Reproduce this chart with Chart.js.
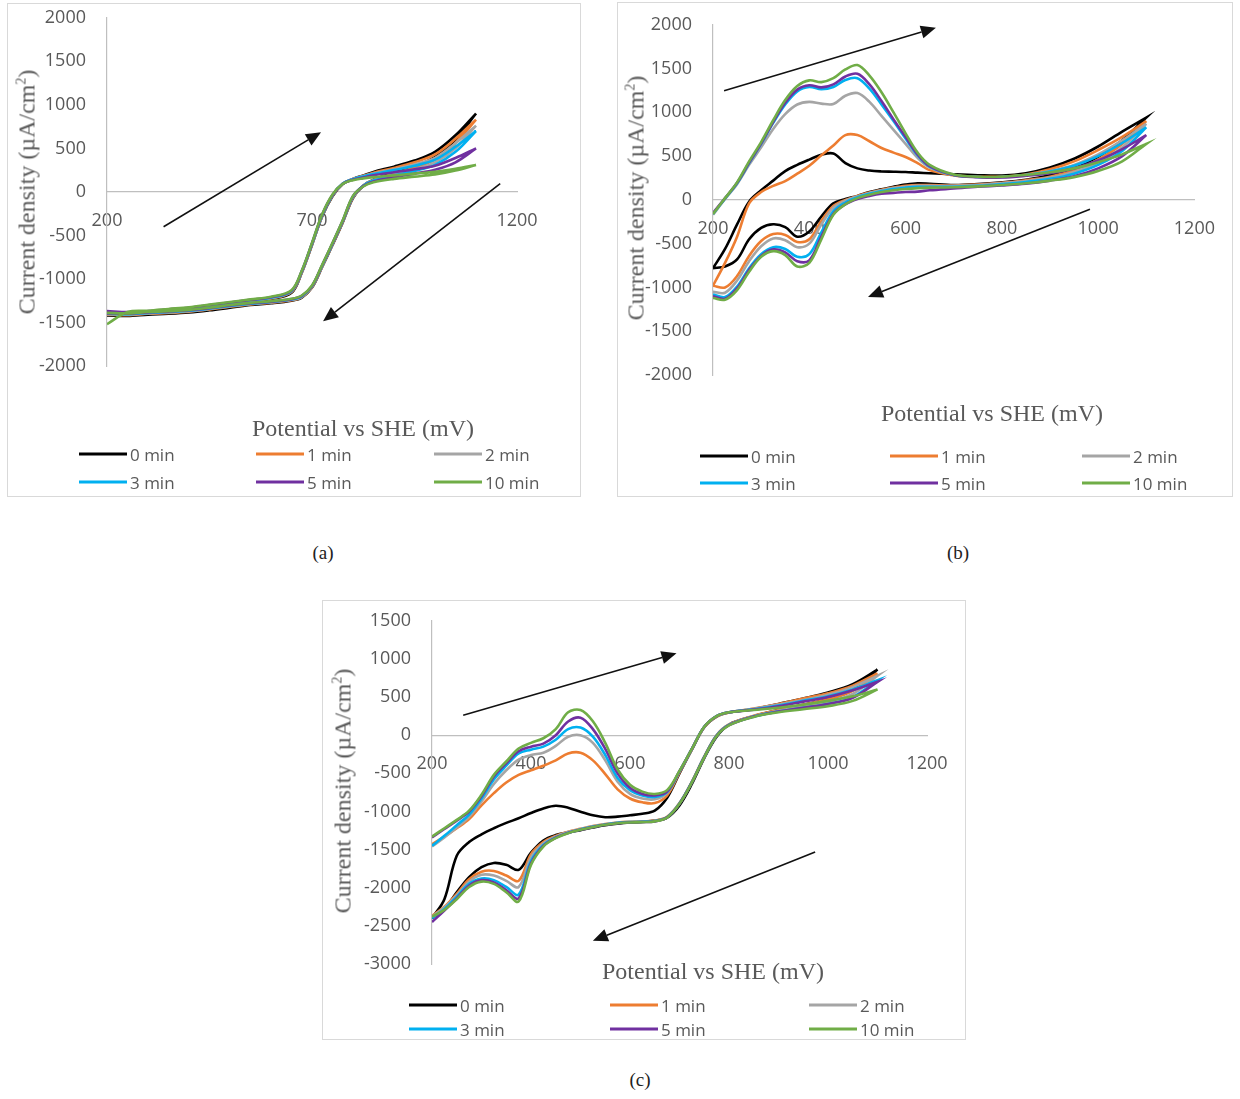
<!DOCTYPE html>
<html><head><meta charset="utf-8">
<script src="https://cdn.jsdelivr.net/npm/chart.js@4.4.1/dist/chart.umd.min.js"></script>
<style>
body{margin:0;width:1240px;height:1099px;background:#fff;position:relative;overflow:hidden;font-family:'Open Sans',sans-serif;}
.box{position:absolute;border:1px solid #d9d9d9;box-sizing:border-box;}
canvas{position:absolute;}
.xt,.yt{position:absolute;font-family:'Liberation Serif',serif;font-size:24px;color:#595959;white-space:nowrap;}
.xt{transform:translate(-50%,-50%);}
.yt{transform:translate(-50%,-50%) rotate(-90deg);}
.yt sup{font-size:14px;}
.li{position:absolute;transform:translateY(-50%);font-size:17px;color:#595959;display:flex;align-items:center;white-space:nowrap;}
.li i{display:inline-block;width:48px;height:3px;margin-right:3px;}
.cap{position:absolute;transform:translate(-50%,-50%);font-family:'Liberation Serif',serif;font-size:19px;color:#222;}
</style></head>
<body>
<div class="box" style="left:7px;top:3px;width:574px;height:494px"></div>
<div class="box" style="left:617px;top:2px;width:616px;height:495px"></div>
<div class="box" style="left:322px;top:600px;width:644px;height:440px"></div>
<canvas id="cA" width="574" height="511" style="left:7px;top:-14px"></canvas>
<canvas id="cB" width="616" height="504" style="left:617px;top:-7px"></canvas>
<canvas id="cC" width="644" height="451" style="left:322px;top:589px"></canvas>
<div id="txt"></div>
<script>
// ---------- series ----------
const seriesNames = ['0 min','1 min','2 min','3 min','5 min','10 min'];
const seriesColors = ['#000000','#ED7D31','#A5A5A5','#00B0F0','#7030A0','#70AD47'];

// ---------- panel (a) : potential grid (mV), forward and reverse current densities (uA/cm2), ascending potential ----------
const potentialA = [200,250,300,350,400,450,500,550,600,650,675,700,725,750,775,800,825,850,900,950,1000,1050,1100];
const a0Fwd = [-1400,-1400,-1390,-1370,-1350,-1320,-1290,-1260,-1230,-1160,-930,-610,-280,-50,90,150,190,230,290,360,460,650,900];
const a0Rev = [-1420,-1425,-1410,-1400,-1385,-1360,-1330,-1300,-1280,-1250,-1215,-1100,-860,-610,-350,-70,70,140,220,300,400,600,900];
const a1Fwd = [-1390,-1395,-1385,-1365,-1345,-1315,-1285,-1255,-1225,-1150,-925,-605,-275,-45,92,148,185,220,275,340,430,610,830];
const a1Rev = [-1410,-1415,-1400,-1390,-1375,-1350,-1320,-1292,-1272,-1245,-1210,-1095,-855,-605,-345,-65,72,138,210,280,370,560,830];
const a2Fwd = [-1385,-1390,-1380,-1360,-1340,-1310,-1280,-1250,-1220,-1145,-920,-600,-270,-40,95,148,182,212,260,315,390,560,760];
const a2Rev = [-1405,-1410,-1395,-1385,-1370,-1345,-1315,-1288,-1268,-1240,-1205,-1090,-850,-600,-340,-60,72,135,200,260,340,500,760];
const a3Fwd = [-1380,-1385,-1375,-1355,-1335,-1305,-1275,-1245,-1215,-1140,-915,-595,-265,-38,95,145,178,205,250,300,370,520,700];
const a3Rev = [-1400,-1405,-1390,-1380,-1365,-1340,-1310,-1284,-1264,-1236,-1200,-1085,-845,-595,-335,-55,70,130,190,240,310,460,700];
const a5Fwd = [-1370,-1380,-1370,-1350,-1330,-1300,-1270,-1240,-1210,-1135,-910,-590,-260,-35,93,140,165,190,225,260,300,390,500];
const a5Rev = [-1395,-1400,-1385,-1375,-1360,-1335,-1305,-1280,-1260,-1232,-1195,-1080,-840,-590,-330,-50,66,120,170,210,255,340,500];
const a10Fwd = [-1520,-1380,-1365,-1345,-1325,-1295,-1265,-1235,-1205,-1130,-905,-585,-255,-30,92,135,155,170,190,210,230,265,310];
const a10Rev = [-1390,-1395,-1380,-1370,-1355,-1330,-1300,-1275,-1255,-1228,-1190,-1075,-835,-585,-325,-45,62,110,150,175,200,245,310];
const xTicksA = [200,700,1200];
const yTicksA = [-2000,-1500,-1000,-500,0,500,1000,1500,2000];
const arrowsA = [[338,-400,722,686],[1159,95,727,-1486]];

// ---------- panel (b) ----------
const potentialB = [200,225,250,275,300,325,350,375,400,425,450,475,500,525,550,575,600,625,650,700,750,800,850,900,950,1000,1050,1100];
const b0Fwd = [-780,-560,-280,-20,110,220,329,400,460,515,530,420,360,335,325,322,318,311,305,292,282,278,305,370,470,610,780,940];
const b0Rev = [-780,-760,-680,-450,-320,-278,-310,-420,-360,-190,-40,10,45,90,120,150,175,190,185,170,180,200,230,280,360,490,680,940];
const b1Fwd = [-980,-720,-420,-40,90,160,215,300,390,510,620,740,740,670,593,540,490,420,340,280,265,265,290,350,440,570,720,900];
const b1Rev = [-980,-1000,-870,-640,-470,-390,-400,-480,-450,-240,-70,0,45,85,115,140,160,170,170,165,175,195,225,265,340,460,640,900];
const b2Fwd = [-170,10,180,400,600,810,980,1090,1120,1100,1095,1190,1220,1120,960,800,640,480,370,285,262,262,285,330,400,520,680,870];
const b2Rev = [-1050,-1060,-920,-700,-530,-440,-460,-540,-500,-280,-90,-10,40,80,110,135,150,160,160,160,170,190,215,255,320,430,600,870];
const b3Fwd = [-160,15,190,420,640,880,1090,1240,1290,1265,1290,1370,1390,1270,1090,900,700,510,380,285,262,262,285,325,390,500,650,830];
const b3Rev = [-1080,-1110,-990,-780,-620,-540,-560,-650,-620,-370,-130,-30,30,70,100,125,140,150,150,150,160,180,205,240,300,400,560,830];
const b5Fwd = [-150,20,195,425,645,890,1110,1260,1310,1285,1320,1410,1440,1320,1130,920,720,520,385,285,260,255,275,305,360,450,580,740];
const b5Rev = [-1100,-1130,-1010,-800,-640,-565,-600,-700,-690,-420,-160,-50,10,45,70,80,90,95,110,130,150,165,185,220,270,360,500,740];
const b10Fwd = [-160,20,200,440,660,910,1140,1300,1365,1345,1390,1490,1540,1420,1230,1000,760,540,400,290,265,265,285,315,360,430,520,640];
const b10Rev = [-1120,-1140,-1030,-820,-650,-585,-630,-760,-720,-450,-170,-50,20,60,90,110,125,135,140,145,155,170,190,220,260,330,440,640];
const xTicksB = [200,400,600,800,1000,1200];
const yTicksB = [-2000,-1500,-1000,-500,0,500,1000,1500,2000];
const arrowsB = [[223,1247,663,1966],[983,-106,522,-1110]];

// ---------- panel (c) ----------
const potentialC = [200,225,250,275,300,325,350,375,400,425,450,475,500,525,550,575,600,625,650,675,700,725,750,775,800,850,900,950,1000,1050,1100];
const c0Fwd = [-2400,-2150,-1580,-1400,-1300,-1220,-1150,-1090,-1020,-960,-925,-950,-1005,-1050,-1075,-1068,-1050,-1030,-990,-820,-500,-190,105,245,298,340,410,480,560,670,860];
const c0Rev = [-2400,-2280,-2060,-1860,-1730,-1675,-1700,-1765,-1540,-1380,-1310,-1275,-1245,-1210,-1180,-1160,-1145,-1135,-1120,-1080,-920,-640,-300,-20,140,250,330,400,470,590,860];
const c1Fwd = [-1430,-1330,-1220,-1100,-920,-760,-620,-520,-460,-400,-330,-240,-230,-330,-510,-710,-830,-880,-890,-790,-490,-185,105,245,298,350,410,480,550,650,810];
const c1Rev = [-2370,-2250,-2080,-1890,-1790,-1780,-1840,-1910,-1560,-1400,-1320,-1265,-1228,-1192,-1165,-1146,-1136,-1130,-1120,-1070,-890,-610,-280,0,140,255,330,400,470,580,810];
const c2Fwd = [-1460,-1340,-1210,-1070,-870,-640,-460,-320,-260,-230,-140,-20,0,-100,-330,-610,-770,-830,-840,-755,-475,-180,110,250,300,345,400,460,530,630,780];
const c2Rev = [-2380,-2260,-2100,-1920,-1830,-1840,-1910,-1990,-1600,-1420,-1330,-1270,-1230,-1195,-1168,-1148,-1138,-1132,-1122,-1072,-892,-612,-282,-2,138,250,320,380,440,540,780];
const c3Fwd = [-1450,-1320,-1180,-1040,-830,-580,-400,-240,-190,-150,-60,80,100,-20,-260,-560,-720,-790,-810,-745,-475,-180,110,250,300,340,390,450,510,600,720];
const c3Rev = [-2400,-2280,-2120,-1950,-1880,-1900,-1990,-2090,-1650,-1440,-1340,-1280,-1235,-1200,-1170,-1150,-1140,-1135,-1125,-1075,-895,-615,-285,-5,135,245,310,360,410,500,720];
const c5Fwd = [-1340,-1230,-1120,-1000,-800,-540,-370,-210,-150,-110,0,180,230,80,-180,-500,-690,-770,-790,-740,-470,-180,110,250,300,335,380,440,500,590,700];
const c5Rev = [-2450,-2300,-2140,-1970,-1900,-1930,-2030,-2140,-1680,-1450,-1345,-1283,-1240,-1205,-1175,-1155,-1145,-1140,-1130,-1078,-898,-618,-288,-8,132,245,310,360,410,490,700];
const c10Fwd = [-1330,-1220,-1110,-990,-780,-520,-345,-175,-100,-40,80,300,330,182,-100,-450,-650,-740,-770,-720,-468,-180,110,250,300,330,360,400,450,510,600];
const c10Rev = [-2380,-2290,-2150,-1990,-1920,-1950,-2060,-2180,-1700,-1460,-1350,-1285,-1240,-1205,-1175,-1155,-1145,-1140,-1130,-1080,-900,-620,-290,-10,130,240,300,340,380,450,600];
const xTicksC = [200,400,600,800,1000,1200];
const yTicksC = [-3000,-2500,-2000,-1500,-1000,-500,0,500,1000,1500];
const arrowsC = [[263,261,694,1073],[974,-1531,525,-2695]];

const xTitle = 'Potential vs SHE (mV)';

// forward scan then reverse scan, as one continuous trace
function cycle(grid, fwd, rev){
  const f = grid.map((x,i)=>({x:x, y:fwd[i]}));
  const r = grid.map((x,i)=>({x:x, y:rev[i]})).reverse();
  return f.concat(r);
}

const arrowPlugin = {
  id:'arrows',
  afterDatasetsDraw(chart, args, opts){
    const ctx = chart.ctx, xs = chart.scales.x, ys = chart.scales.y;
    ctx.save();
    ctx.strokeStyle = '#111'; ctx.fillStyle = '#111'; ctx.lineWidth = 1.6;
    (opts.list||[]).forEach(a=>{
      const x1 = xs.getPixelForValue(a[0]), y1 = ys.getPixelForValue(a[1]);
      const x2 = xs.getPixelForValue(a[2]), y2 = ys.getPixelForValue(a[3]);
      const ang = Math.atan2(y2-y1, x2-x1), hl = 15, hw = 6.5;
      const bx = x2 - hl*Math.cos(ang), by = y2 - hl*Math.sin(ang);
      ctx.beginPath(); ctx.moveTo(x1,y1); ctx.lineTo(bx,by); ctx.stroke();
      ctx.beginPath(); ctx.moveTo(x2,y2);
      ctx.lineTo(bx - hw*Math.sin(ang), by + hw*Math.cos(ang));
      ctx.lineTo(bx + hw*Math.sin(ang), by - hw*Math.cos(ang));
      ctx.closePath(); ctx.fill();
    });
    ctx.restore();
  }
};

const tickFont = {family:'Open Sans', size:18};
function makeChart(id, grid, fwds, revs, xTicks, yTicks, arrows, pad, yW){
  return new Chart(document.getElementById(id), {
    type:'scatter',
    data:{datasets: seriesNames.map((n,i)=>({
      label:n, data:cycle(grid, fwds[i], revs[i]), showLine:true,
      borderColor:seriesColors[i], backgroundColor:seriesColors[i],
      borderWidth:2.6, pointRadius:0, pointHoverRadius:0, tension:0.35, fill:false, order:6-i
    }))},
    options:{
      responsive:false, animation:false, devicePixelRatio:1,
      layout:{padding:pad},
      events:[],
      plugins:{legend:{display:false}, tooltip:{enabled:false}, arrows:{list:arrows}},
      scales:{
        x:{type:'linear', position:{y:0}, min:xTicks[0], max:xTicks[xTicks.length-1],
          afterBuildTicks:s=>{ s.ticks = xTicks.map(v=>({value:v})); },
          ticks:{font:tickFont, color:'#595959', padding:18, maxRotation:0, autoSkip:false, callback:v=>String(v)},
          grid:{display:false, drawTicks:false}, border:{display:true, color:'#bfbfbf', width:1.2}},
        y:{type:'linear', position:'left', min:yTicks[0], max:yTicks[yTicks.length-1],
          afterBuildTicks:s=>{ s.ticks = yTicks.map(v=>({value:v})); },
          afterFit:s=>{ s.width = yW; },
          ticks:{font:tickFont, color:'#595959', padding:21, autoSkip:false, callback:v=>String(v)},
          grid:{display:false, drawTicks:false}, border:{display:true, color:'#bfbfbf', width:1.2}}
      }
    },
    plugins:[arrowPlugin]
  });
}

makeChart('cA', potentialA, [a0Fwd,a1Fwd,a2Fwd,a3Fwd,a5Fwd,a10Fwd], [a0Rev,a1Rev,a2Rev,a3Rev,a5Rev,a10Rev],
  xTicksA, yTicksA, arrowsA, {left:0, top:30, right:64, bottom:131}, 100);
makeChart('cB', potentialB, [b0Fwd,b1Fwd,b2Fwd,b3Fwd,b5Fwd,b10Fwd], [b0Rev,b1Rev,b2Rev,b3Rev,b5Rev,b10Rev],
  xTicksB, yTicksB, arrowsB, {left:0, top:30, right:38, bottom:122}, 96);
makeChart('cC', potentialC, [c0Fwd,c1Fwd,c2Fwd,c3Fwd,c5Fwd,c10Fwd], [c0Rev,c1Rev,c2Rev,c3Rev,c5Rev,c10Rev],
  xTicksC, yTicksC, arrowsC, {left:0, top:30, right:39, bottom:76}, 110);

// ---------- text: axis titles, legends, captions ----------
const panelsText = [
  {xt:[363,428], yt:[27,192], rows:[454,482], cols:[79,256,434], cap:['(a)',323,553]},
  {xt:[992,413], yt:[636,198], rows:[456,483], cols:[700,890,1082], cap:['(b)',958,553]},
  {xt:[713,971], yt:[343,791], rows:[1005,1029], cols:[409,610,809], cap:['(c)',640,1080]}
];
let html = '';
panelsText.forEach(p=>{
  html += `<div class="xt" style="left:${p.xt[0]}px;top:${p.xt[1]}px">${xTitle}</div>`;
  html += `<div class="yt" style="left:${p.yt[0]}px;top:${p.yt[1]}px">Current density (µA/cm<sup>2</sup>)</div>`;
  seriesNames.forEach((n,i)=>{
    const r = Math.floor(i/3), c = i%3;
    html += `<div class="li" style="left:${p.cols[c]}px;top:${p.rows[r]}px"><i style="background:${seriesColors[i]}"></i>${n}</div>`;
  });
  html += `<div class="cap" style="left:${p.cap[1]}px;top:${p.cap[2]}px">${p.cap[0]}</div>`;
});
document.getElementById('txt').innerHTML = html;
</script>
</body></html>
